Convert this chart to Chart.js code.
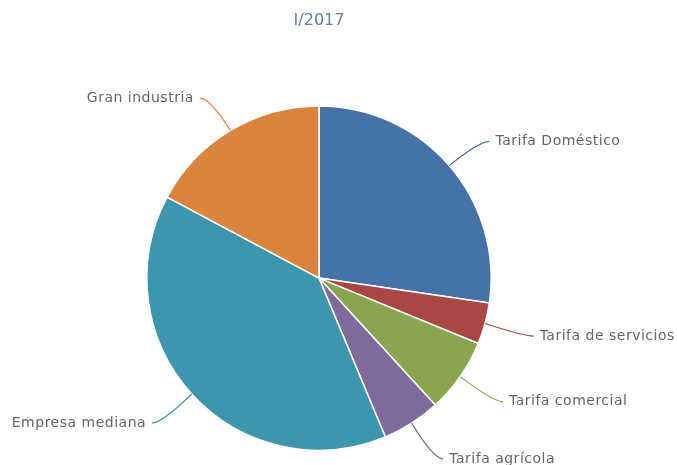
<!DOCTYPE html>
<html>
<head>
<meta charset="utf-8">
<script src="https://cdn.jsdelivr.net/npm/chart.js@4/dist/chart.umd.min.js"></script>
<style>
  html, body { margin: 0; padding: 0; background: #fff; }
  #wrap { width: 677px; height: 465px; }
</style>
</head>
<body>
<div id="wrap"><canvas id="pieChart"></canvas></div>
<script>
const chartTitle = "I/2017";
const categories = [
  "Tarifa Doméstico",
  "Tarifa de servicios",
  "Tarifa comercial",
  "Tarifa agrícola",
  "Empresa mediana",
  "Gran industria"
];
const shares = [27.3, 3.9, 7.0, 5.5, 39.1, 17.2];
const sliceColors = ["#4572A7", "#AA4643", "#89A54E", "#80699B", "#3D96AE", "#DB843D"];

// labels outside the pie with soft connectors, highcharts style
const outsideLabels = {
  id: "outsideLabels",
  afterDatasetsDraw(chart) {
    const ctx = chart.ctx;
    const meta = chart.getDatasetMeta(0);
    ctx.save();
    ctx.font = "14px 'DejaVu Sans', Verdana, sans-serif";
    ctx.letterSpacing = "0.5px";
    ctx.textBaseline = "middle";
    meta.data.forEach((arc, i) => {
      const { x, y, startAngle, endAngle, outerRadius } = arc.getProps(
        ["x", "y", "startAngle", "endAngle", "outerRadius"], true
      );
      const mid = (startAngle + endAngle) / 2;
      const dx = Math.cos(mid), dy = Math.sin(mid);
      const right = dx >= 0;
      const ex = x + outerRadius * dx, ey = y + outerRadius * dy;
      const ax = x + (outerRadius + 40) * dx, ay = y + (outerRadius + 40) * dy + 2;
      const endX = ax + (right ? 10 : -10);

      ctx.strokeStyle = sliceColors[i];
      ctx.lineWidth = 1.2;
      ctx.beginPath();
      ctx.moveTo(ex, ey);
      ctx.quadraticCurveTo(ax, ay, endX, ay);
      ctx.stroke();

      ctx.fillStyle = "#666666";
      ctx.textAlign = right ? "left" : "right";
      ctx.fillText(categories[i], ax + (right ? 16 : -16), ay);
    });
    ctx.restore();
  }
};

new Chart(document.getElementById("pieChart"), {
  type: "pie",
  data: {
    labels: categories,
    datasets: [{
      data: shares,
      backgroundColor: sliceColors,
      borderColor: "#ffffff",
      borderWidth: 1.5,
      hoverOffset: 0
    }]
  },
  options: {
    responsive: true,
    maintainAspectRatio: false,
    animation: false,
    layout: { padding: { top: 0, bottom: 14, left: 100, right: 139 } },
    plugins: {
      legend: { display: false },
      tooltip: { enabled: false },
      title: {
        display: true,
        text: chartTitle,
        color: "#5f82a8",
        font: { family: "'DejaVu Sans', Verdana, sans-serif", size: 16, weight: "normal" },
        padding: { top: 11, bottom: 75 }
      }
    }
  },
  plugins: [outsideLabels]
});
</script>
</body>
</html>
